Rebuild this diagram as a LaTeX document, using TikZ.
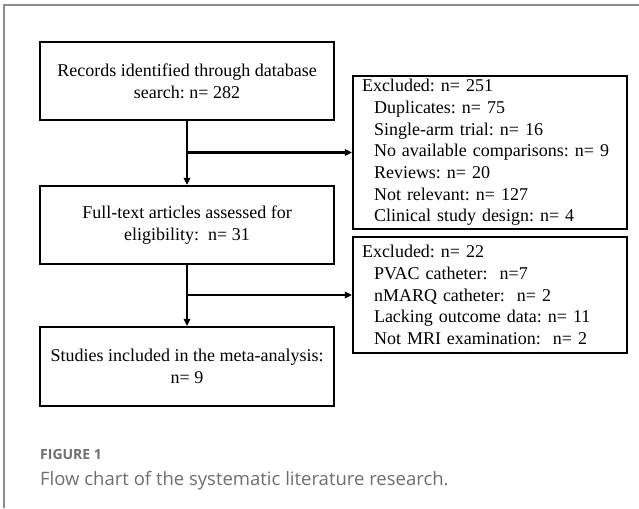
\documentclass[tikz,border=0pt]{standalone}
\usepackage{fontspec}
\setmainfont{Liberation Serif}
\newfontfamily\capfont{Open Sans}
\usetikzlibrary{arrows.meta}
\definecolor{framegray}{RGB}{140,140,140}
\definecolor{capgray}{RGB}{110,110,110}
\frenchspacing
\begin{document}
\begin{tikzpicture}[x=1pt,y=1pt,
 mainbox/.style={draw=black, line width=2.2pt, minimum width=294pt, minimum height=78pt, align=center, font=\fontsize{18}{22}\selectfont, inner sep=0pt},
 exbox/.style={draw=black, line width=2.2pt, text width=256pt, inner xsep=9pt, inner ysep=0pt, align=left, font=\fontsize{18}{21.7}\selectfont},
 flow/.style={line width=2.2pt, -{Triangle[length=7pt,width=6.5pt]}}]
\useasboundingbox (0,0) rectangle (639,-508);
\draw[framegray, line width=1.5pt] (4,-508) -- (4,-5) -- (639,-5);
\node[mainbox] (b1) at (187,-81) {Records identified through database\\search: n= 282};
\node[mainbox] (b2) at (187,-225) {Full-text articles assessed for\\eligibility:\ \ n= 31};
\node[mainbox, minimum height=79pt] (b3) at (187,-366.5) {Studies included in the meta-analysis:\\n= 9};
\node[exbox, minimum height=153pt] (r1) at (490,-152.5) {Excluded: n= 251\\
\hspace*{12pt}Duplicates: n= 75\\
\hspace*{12pt}Single-arm trial: n= 16\\
\hspace*{12pt}No available comparisons: n= 9\\
\hspace*{12pt}Reviews: n= 20\\
\hspace*{12pt}Not relevant: n= 127\\
\hspace*{12pt}Clinical study design: n= 4};
\node[exbox, minimum height=116pt] (r2) at (490,-295) {Excluded: n= 22\\
\hspace*{12pt}PVAC catheter:\ \ n=7\\
\hspace*{12pt}nMARQ catheter:\ \ n= 2\\
\hspace*{12pt}Lacking outcome data: n= 11\\
\hspace*{12pt}Not MRI examination:\ \ n= 2};
\coordinate (j1) at (b1.south |- r1.west);
\coordinate (j2) at (b2.south |- r2.west);
\draw[flow] (b1.south) -- (b2.north);
\draw[flow] (j1) -- (r1.west);
\draw[flow] (b2.south) -- (b3.north);
\draw[flow] (j2) -- (r2.west);
\node[anchor=base west, inner sep=0pt, text=capgray, font=\capfont\fontsize{14}{16}\selectfont\bfseries] (fig) at (40,-459) {FIGURE 1};
\node[anchor=base west, inner sep=0pt, text=capgray, font=\capfont\fontsize{18.5}{20}\selectfont] (cap) at (40,-485) {Flow chart of the systematic literature research.};
\end{tikzpicture}
\end{document}
